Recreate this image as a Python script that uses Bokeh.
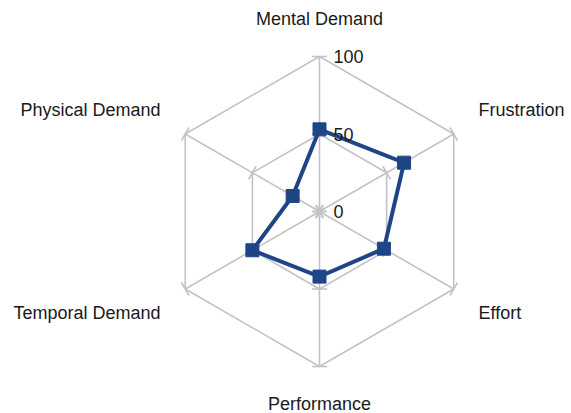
import numpy as np
from bokeh.plotting import figure
from bokeh.models import ColumnDataSource
from bokeh.core.properties import value
from bokeh.embed import file_html
from bokeh.resources import INLINE

categories = ["Mental Demand", "Frustration", "Effort", "Performance", "Temporal Demand", "Physical Demand"]
scores = [53, 63, 48, 42, 50, 20]
levels = [0, 50, 100]
level_labels = ["0", "50", "100"]

PX = 1.55  # pixels per unit
W, H = 571, 413
cx_px, cy_px = 319, 211
p = figure(width=W, height=H, output_backend="svg", toolbar_location=None,
           x_range=(-cx_px / PX, (W - cx_px) / PX), y_range=(-(H - cy_px) / PX, cy_px / PX),
           min_border=0, outline_line_color=None)
p.axis.visible = False
p.grid.visible = False
p.background_fill_color = "white"

n = len(categories)
ang = np.pi / 2 - np.arange(n) * 2 * np.pi / n
grid_col = "#c3c3c3"

# grid hexagons
for lv in levels[1:]:
    xs = list(lv * np.cos(ang)) + [lv * np.cos(ang[0])]
    ys = list(lv * np.sin(ang)) + [lv * np.sin(ang[0])]
    p.line(xs, ys, line_color=grid_col, line_width=1.6)

# spokes
R = levels[-1]
p.segment(x0=np.zeros(n), y0=np.zeros(n), x1=R * np.cos(ang), y1=R * np.sin(ang),
          line_color=grid_col, line_width=1.6)

# tick marks
tl = 7.5 / PX
tx0, ty0, tx1, ty1 = [], [], [], []
for lv in levels:
    for a in ang:
        px_, py_ = lv * np.cos(a), lv * np.sin(a)
        dx, dy = -np.sin(a) * tl, np.cos(a) * tl
        tx0.append(px_ - dx); ty0.append(py_ - dy); tx1.append(px_ + dx); ty1.append(py_ + dy)
p.segment(x0=tx0, y0=ty0, x1=tx1, y1=ty1, line_color=grid_col, line_width=1.6)
# center star
cs = 7 / PX
p.segment(x0=np.zeros(n), y0=np.zeros(n), x1=cs * np.cos(ang), y1=cs * np.sin(ang),
          line_color=grid_col, line_width=1.6)

# data
vals = np.array(scores, dtype=float)
dx_ = vals * np.cos(ang)
dy_ = vals * np.sin(ang)
col = "#1e4686"
p.line(list(dx_) + [dx_[0]], list(dy_) + [dy_[0]], line_color=col, line_width=4, line_join="miter")
p.scatter(dx_, dy_, marker="square", size=13, fill_color=col, line_color=col)

# level labels
p.text(x=[14 / PX] * len(levels), y=levels, text=level_labels,
       text_font=value("Liberation Sans"), text_font_size="18px", text_color="#1a1a1a",
       text_baseline="middle", text_align="left")

# category labels
lx = np.where(np.abs(np.cos(ang)) < 0.1, 0.0, np.sign(np.cos(ang)) * 102.6)
ly = np.where(np.abs(np.sin(ang)) > 0.9, np.sign(np.sin(ang)) * 124.5, np.sign(np.sin(ang)) * 65.8)
align = ["center" if abs(np.cos(a)) < 0.1 else ("left" if np.cos(a) > 0 else "right") for a in ang]
src = ColumnDataSource(dict(x=lx, y=ly, t=categories, al=align))
p.text(x="x", y="y", text="t", text_align="al", source=src,
       text_font=value("Liberation Sans"), text_font_size="18px", text_color="#1a1a1a",
       text_baseline="middle")

open("out.html", "w").write(file_html(p, INLINE))
